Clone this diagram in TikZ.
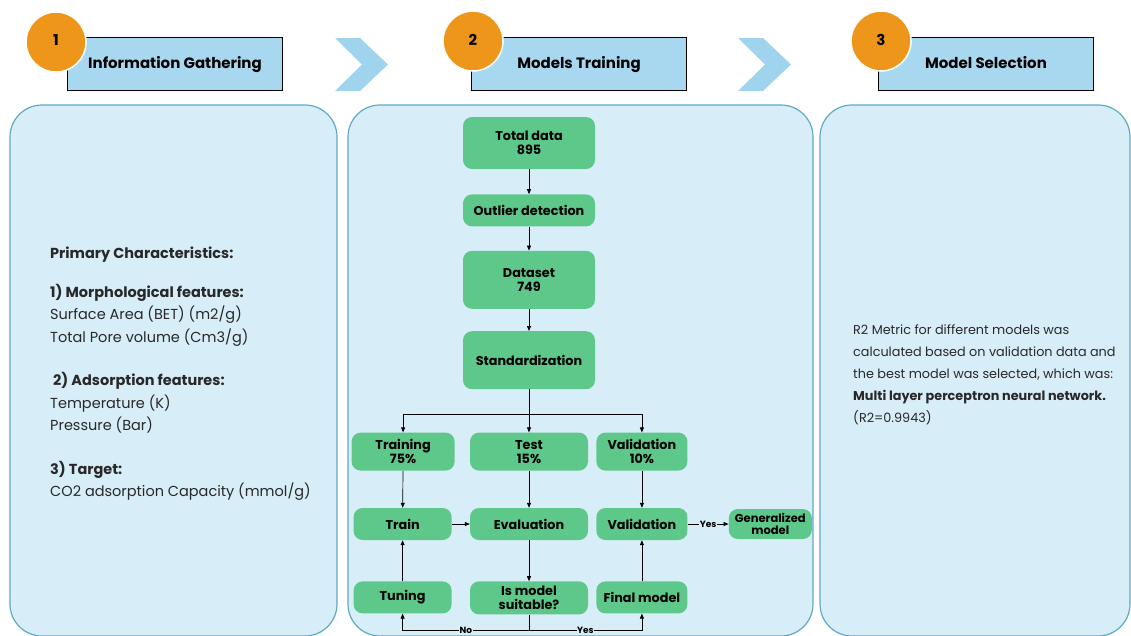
\documentclass[tikz,border=0pt]{standalone}
\usepackage{fontspec}
\setmainfont{Poppins}
\usetikzlibrary{arrows.meta, positioning, calc}
\definecolor{panelfill}{RGB}{215,238,249}
\definecolor{paneledge}{RGB}{95,170,195}
\definecolor{headfill}{RGB}{168,216,240}
\definecolor{chevblue}{RGB}{160,212,238}
\definecolor{steporange}{RGB}{238,150,26}
\definecolor{flowgreen}{RGB}{94,200,138}
\definecolor{textgray}{RGB}{40,40,40}
\tikzset{
  % Stage panels and headers
  panel/.style={draw=paneledge, fill=panelfill, line width=1.2pt, rounded corners=32pt},
  headbox/.style={
    rectangle, draw=black, fill=headfill, line width=1.6pt, minimum width=215pt,
    minimum height=53pt, inner sep=0pt, text height=11pt, text depth=3pt,
    font=\bfseries\fontsize{15}{17}\selectfont
  },
  stepnum/.style={circle, fill=steporange, draw=white, line width=1.5pt, minimum size=60pt,
    inner sep=0pt, font=\bfseries\fontsize{15}{17}\selectfont},
  chevron/.style={fill=chevblue},
  % Flowchart block
  flownode/.style={
    rectangle, rounded corners=9pt, fill=flowgreen, align=center, inner sep=0pt,
    minimum height=32pt, font=\bfseries\fontsize{12.8}{14}\selectfont
  },
  flowarrow/.style={-{Triangle[length=5pt, width=4pt]}, line width=0.7pt},
  flowline/.style={line width=0.7pt},
  flowlabel/.style={font=\bfseries\fontsize{9}{10}\selectfont, fill=panelfill, inner sep=0.5pt}
}
\begin{document}
\begin{tikzpicture}[x=1pt, y=-1pt]
  \useasboundingbox (0,0) rectangle (1131,635);

  % Panels
  \draw[panel] (10,105) rectangle (337,636);
  \draw[panel] (348,105) rectangle (813,636);
  \draw[panel] (820,105) rectangle (1130,636);

  % Chevrons between stages
  \fill[chevron] (335,38) -- (360,38) -- (388,64.5) -- (360,91) -- (335,91) -- (362,64.5) -- cycle;
  \fill[chevron] (738,38) -- (763,38) -- (791,64.5) -- (763,91) -- (738,91) -- (765,64.5) -- cycle;

  % Headers
  \node[headbox] (head1) at (175,64) {Information Gathering};
  \node[headbox] (head2) at (579,64) {Models Training};
  \node[headbox] (head3) at (986,64) {Model Selection};
  \node[stepnum] (num1) at (56,42) {\raisebox{3pt}{1}};
  \node[stepnum] (num2) at (473,41) {\raisebox{3pt}{2}};
  \node[stepnum] (num3) at (881,41) {\raisebox{3pt}{3}};

  % Stage 1: features
  \node[anchor=north west, align=left, inner sep=0pt, text=textgray,
    font=\fontsize{14.5}{22.5}\selectfont] (features) at (50,247) {
    \textbf{Primary Characteristics:}\\[16pt]
    \textbf{1) Morphological features:}\\
    Surface Area (BET) (m2/g)\\
    Total Pore volume (Cm3/g)\\[21pt]
    \hspace{3pt}\textbf{2) Adsorption features:}\\
    Temperature (K)\\
    Pressure (Bar)\\[21pt]
    \textbf{3) Target:}\\
    CO2 adsorption Capacity (mmol/g)
  };

  % Stage 2: flowchart
  \node[flownode, minimum width=132pt, minimum height=52pt] (total) at (529,143) {Total data\\895};
  \node[flownode, minimum width=132pt, below=25pt of total] (outlier) {Outlier detection};
  \node[flownode, minimum width=132pt, minimum height=58pt, below=24pt of outlier] (dataset) {Dataset\\749};
  \node[flownode, minimum width=132pt, minimum height=58pt, below=22pt of dataset] (standard) {Standardization};

  \node[flownode, minimum width=118pt, minimum height=38pt, below=43pt of standard] (test) {Test\\15\%};
  \node[flownode, minimum width=103pt, minimum height=38pt, left=15pt of test] (training) {Training\\75\%};
  \node[flownode, minimum width=91pt, minimum height=38pt, right=8pt of test] (validset) {Validation\\10\%};

  \node[flownode, minimum width=118pt, below=37pt of test] (eval) {Evaluation};
  \node[flownode, minimum width=98pt, left=18pt of eval] (train) {Train};
  \node[flownode, minimum width=91pt, below=37pt of validset] (valid) {Validation};
  \node[flownode, minimum width=83pt, minimum height=30pt, right=41pt of valid,
    font=\bfseries\fontsize{11.5}{12.5}\selectfont] (general) {Generalized\\model};

  \node[flownode, minimum width=118pt, minimum height=33pt, below=41pt of eval] (suitable) {Is model\\suitable?};
  \node[flownode, minimum width=98pt, below=41pt of train] (tuning) {Tuning};
  \node[flownode, minimum width=91pt, below=41pt of valid] (final) {Final model};

  % Arrows
  \draw[flowarrow] (total) -- (outlier);
  \draw[flowarrow] (outlier) -- (dataset);
  \draw[flowarrow] (dataset) -- (standard);
  \coordinate[below=25pt of standard.south] (split);
  \draw[flowarrow] (standard) -- (test);
  \draw[flowarrow] (split) -| (training.north);
  \draw[flowarrow] (split) -| (validset.north);
  \draw[flowarrow] (training) -- (train);
  \draw[flowarrow] (test) -- (eval);
  \draw[flowarrow] (validset) -- (valid);
  \draw[flowarrow] (train) -- (eval);
  \draw[flowarrow] (valid) -- node[flowlabel] {Yes} (general);
  \draw[flowarrow] (eval) -- (suitable);
  \draw[flowarrow] (tuning) -- (train);
  \draw[flowarrow] (final) -- (valid);
  \coordinate[below=16pt of suitable.south] (loop);
  \draw[flowline] (suitable) -- (loop);
  \draw[flowarrow] (loop) -| node[flowlabel, pos=0.25] {No} (tuning.south);
  \draw[flowarrow] (loop) -| node[flowlabel, pos=0.25] {Yes} (final.south);

  % Stage 3: result
  \node[anchor=north west, align=left, inner sep=0pt, text=textgray,
    font=\fontsize{12.8}{22}\selectfont] (result) at (853,325) {
    R2 Metric for different models was\\
    calculated based on validation data and\\
    the best model was selected, which was:\\
    \textbf{Multi layer perceptron neural network.}\\
    (R2=0.9943)
  };
\end{tikzpicture}
\end{document}
